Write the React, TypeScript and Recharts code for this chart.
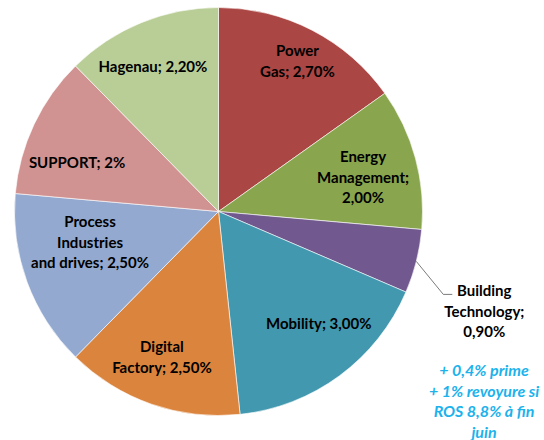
import React from "react";
import { PieChart, Pie, Cell } from "recharts";

const names = [
  "Power Gas",
  "Energy Management",
  "Building Technology",
  "Mobility",
  "Digital Factory",
  "Process Industries and drives",
  "SUPPORT",
  "Hagenau",
];
const shares = [2.7, 2.0, 0.9, 3.0, 2.5, 2.5, 2.0, 2.2];
const labelLines = [
  ["Power", "Gas; 2,70%"],
  ["Energy", "Management;", "2,00%"],
  ["Building", "Technology;", "0,90%"],
  ["Mobility; 3,00%"],
  ["Digital", "Factory; 2,50%"],
  ["Process", "Industries", "and drives; 2,50%"],
  ["SUPPORT; 2%"],
  ["Hagenau; 2,20%"],
];
const noteLines = ["+ 0,4% prime", "+ 1% revoyure si", "ROS 8,8% à fin", "juin"];

const colors = ["#AA4643", "#89A54E", "#71588F", "#4198AF", "#DB843D", "#93A9CF", "#D19392", "#B9CD96"];

// where each label sits inside its slice: [fraction of radius, angle nudge in degrees]
const labelPlace: (number[] | null)[] = [
  [0.835, -0.3],
  [0.729, -1.6],
  null,
  [0.736, 5.5],
  [0.763, -2.1],
  [0.647, -6.9],
  [0.735, 5.9],
  [0.783, 2.0],
];

const data = names.map((name, i) => ({ name, value: shares[i] }));

const RAD = Math.PI / 180;
const FONT = "Lato, 'Open Sans', sans-serif";
const FS = 15;
const LH = 20.5;

function renderLabel(props: any) {
  const { cx, cy, midAngle, outerRadius, index } = props;
  const lines = labelLines[index];
  const place = labelPlace[index];

  if (!place) {
    // outside label with a leader line
    const ex = cx + outerRadius * Math.cos(-midAngle * RAD);
    const ey = cy + outerRadius * Math.sin(-midAngle * RAD);
    const bx = ex + 27;
    const by = ey + 33;
    const tx = ex + 68;
    return (
      <g>
        <polyline points={`${ex},${ey} ${bx},${by} ${bx + 9},${by}`} fill="none" stroke="#595959" strokeWidth={0.8} />
        {lines.map((t, k) => (
          <text key={k} x={tx} y={ey + 29 + k * LH} textAnchor="middle" dominantBaseline="central"
            fontFamily={FONT} fontWeight="bold" fontSize={FS} fill="#000">
            {t}
          </text>
        ))}
      </g>
    );
  }

  const r = outerRadius * place[0];
  const a = (midAngle + place[1]) * RAD;
  const x = cx + r * Math.cos(-a);
  const y = cy + r * Math.sin(-a);
  const top = y - ((lines.length - 1) / 2) * LH;
  return (
    <g>
      {lines.map((t, k) => (
        <text key={k} x={x} y={top + k * LH} textAnchor="middle" dominantBaseline="central"
          fontFamily={FONT} fontWeight="bold" fontSize={FS} fill="#000">
          {t}
        </text>
      ))}
    </g>
  );
}

export default function App() {
  return (
    <div style={{ position: "absolute", left: 0, top: 0, width: 544, height: 440, background: "#fff" }}>
      <PieChart width={544} height={440} margin={{ top: 0, right: 0, bottom: 0, left: 0 }}>
        <Pie
          data={data}
          dataKey="value"
          nameKey="name"
          cx={218.5}
          cy={211.5}
          outerRadius={204}
          startAngle={90}
          endAngle={-270}
          stroke="#ffffff"
          strokeWidth={0.6}
          label={renderLabel}
          labelLine={false}
          isAnimationActive={false}
        >
          {data.map((d, i) => (
            <Cell key={d.name} fill={colors[i]} />
          ))}
        </Pie>
      </PieChart>
      <div
        style={{
          position: "absolute",
          left: 424,
          top: 360,
          width: 120,
          textAlign: "center",
          fontFamily: FONT,
          fontWeight: "bold",
          fontStyle: "italic",
          fontSize: 16,
          lineHeight: `${LH}px`,
          color: "#1CB2EC",
          whiteSpace: "nowrap",
        }}
      >
        {noteLines.map((t) => (
          <div key={t}>{t}</div>
        ))}
      </div>
    </div>
  );
}
